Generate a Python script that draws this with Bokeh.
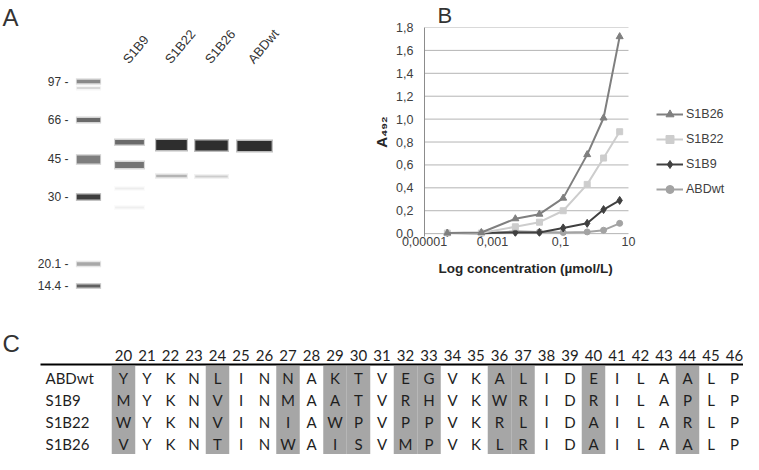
from bokeh.plotting import figure
from bokeh.layouts import row, column
from bokeh.models import (Range1d, FixedTicker, CustomJSTickFormatter, Legend,
                          LegendItem, ColumnDataSource, Title)
from bokeh.embed import file_html
from bokeh.resources import INLINE
from bokeh.core.properties import value

# ---------------- Panel A : SDS-PAGE gel ----------------
lanes = ["Marker", "S1B9", "S1B22", "S1B26", "ABDwt"]
marker_kda = ["97", "66", "45", "30", "20.1", "14.4"]
marker_migration = [81, 119, 158.5, 196.5, 263.5, 285.5]

band_lane = [0, 0, 0, 0, 0, 0, 0, 1, 1, 1, 1, 2, 2, 3, 3, 4]
band_migration = [81, 87.5, 119.5, 159, 196.5, 263.5, 285.5,
                  141.7, 164.5, 188, 207,
                  144.5, 175.5,
                  145, 176,
                  145.5]
band_intensity = [0.5, 0.15, 0.65, 0.55, 0.9, 0.35, 0.7,
                  0.65, 0.6, 0.07, 0.06,
                  1.0, 0.3,
                  1.0, 0.2,
                  1.0]
band_thickness = [3.5, 2, 4, 8, 5, 3.5, 3,
                  4.5, 6, 2, 2,
                  10, 2.5,
                  10, 2,
                  10]

# ---------------- Panel B : ELISA ----------------
conc = [4.7e-5, 4.7e-4, 4.7e-3, 0.024, 0.12, 0.61, 1.85, 5.5]
s1b26 = [0.005, 0.01, 0.13, 0.17, 0.31, 0.69, 1.01, 1.72]
s1b22 = [0.005, 0.005, 0.06, 0.10, 0.20, 0.43, 0.66, 0.89]
s1b9 = [0.005, 0.005, 0.01, 0.01, 0.05, 0.09, 0.21, 0.29]
abdwt = [0.005, 0.0, 0.02, 0.015, 0.01, 0.015, 0.03, 0.09]
y_ticks = [0, 0.2, 0.4, 0.6, 0.8, 1.0, 1.2, 1.4, 1.6, 1.8]
x_ticks = [1e-5, 1e-3, 1e-1, 10]

# ---------------- Panel C : sequence alignment ----------------
positions = list(range(20, 47))
seq_names = ["ABDwt", "S1B9", "S1B22", "S1B26"]
sequences = ["YYKNLINNAKTVEGVKALIDEILAALP",
             "MYKNVINMAATVRHVKWRIDRILAPLP",
             "WYKNVINIAWPVPPVKRLIDAILARLP",
             "VYKNTINWAISVMPVKLRIDAILAALP"]
randomized = [20, 24, 27, 29, 30, 32, 33, 36, 37, 40, 44]

FONT = value("Liberation Sans")
TFONT = value("Lato")

# ===== Panel A figure =====
lane_x = [88, 129, 171, 211, 254]
lane_w = [26, 32, 34, 36, 38]

pa = figure(width=370, height=322, x_range=Range1d(0, 370), y_range=Range1d(322, 0),
            output_backend="svg", toolbar_location=None, min_border=0,
            outline_line_color=None, frame_align=False)
pa.axis.visible = False
pa.grid.visible = False

bx = [lane_x[i] for i in band_lane]
bw = [lane_w[i] for i in band_lane]
src = ColumnDataSource(dict(
    x=bx, y=band_migration,
    w_halo=[v * 0.97 for v in bw], w_core=[v * 0.9 for v in bw],
    h_halo=[t + 3 for t in band_thickness], h_core=band_thickness,
    a_halo=[v * 0.3 for v in band_intensity],
    a_core=[v * 0.85 for v in band_intensity],
))
pa.rect("x", "y", width="w_halo", height="h_halo", source=src,
        fill_color="#202020", fill_alpha="a_halo", line_color=None)
pa.rect("x", "y", width="w_core", height="h_core", source=src,
        fill_color="#151515", fill_alpha="a_core", line_color=None)

pa.text(x=[68] * len(marker_kda), y=marker_migration,
        text=[k + " -" for k in marker_kda], text_align="right",
        text_baseline="middle", text_font=FONT, text_font_size="12px",
        text_color="#333333")
pa.text(x=[lane_x[i] - 4 for i in range(1, 5)], y=[61] * 4, text=lanes[1:],
        angle=50, angle_units="deg", text_align="left", text_baseline="alphabetic",
        text_font=FONT, text_font_size="13px", text_color="#333333")
pa.text(x=[2], y=[17], text=["A"], text_baseline="middle", text_align="left",
        text_font=FONT, text_font_size="24px", text_color="#333333")

# ===== Panel B figure =====
# the plot frame is widened to the right so that the legend can sit beside the curves
pb = figure(width=373, height=322, x_axis_type="log",
            x_range=Range1d(1e-5, 19700), y_range=Range1d(-0.025, 1.8),
            output_backend="svg", toolbar_location=None,
            min_border_left=54, min_border_right=3, min_border_top=24,
            min_border_bottom=86, outline_line_color=None, frame_align=False)
pb.title.text = "B"
pb.title.text_font = "Liberation Sans"
pb.title.text_font_size = "22px"
pb.title.text_font_style = "normal"
pb.title.text_color = "#333333"
pb.title.standoff = 0
pb.title.offset = 13
pb.title.align = "left"

pb.grid.visible = False
pb.segment(x0=[x_ticks[0]] * len(y_ticks), y0=y_ticks,
           x1=[x_ticks[-1]] * len(y_ticks), y1=y_ticks,
           line_color="#b4b4b4", line_width=1)

yax = pb.yaxis[0]
yax.ticker = FixedTicker(ticks=y_ticks, minor_ticks=[])
yax.formatter = CustomJSTickFormatter(code="return tick.toFixed(1).replace('.', ',');")
yax.major_tick_in = 0
yax.major_tick_out = 0
yax.minor_tick_in = 0
yax.minor_tick_out = 0
yax.major_label_standoff = 11
yax.axis_line_color = "#8c8c8c"
yax.major_label_text_font = "Liberation Sans"
yax.major_label_text_font_size = "12.5px"
yax.major_label_text_color = "#404040"
yax.axis_label = "A₄₉₂"
yax.axis_label_text_font = "Liberation Sans"
yax.axis_label_text_font_size = "15px"
yax.axis_label_text_font_style = "bold"
yax.axis_label_text_color = "#262626"
yax.axis_label_standoff = 3

xax = pb.xaxis[0]
xax.ticker = FixedTicker(ticks=x_ticks, minor_ticks=[])
xax.formatter = CustomJSTickFormatter(code="return tick.toString().replace('.', ',');")
xax.major_tick_in = 0
xax.major_tick_out = 0
xax.minor_tick_in = 0
xax.minor_tick_out = 0
xax.major_label_standoff = 0
xax.axis_line_color = None
xax.major_label_text_font = "Liberation Sans"
xax.major_label_text_font_size = "12.5px"
xax.major_label_text_color = "#404040"

pb.add_layout(Title(text="Log concentration (µmol/L)", align="left", offset=14,
                    standoff=20, text_font="Liberation Sans", text_font_size="13.5px",
                    text_font_style="bold", text_color="#262626"), "below")

series = [
    ("ABDwt", abdwt, "#a3a3a3", "circle", 6),
    ("S1B9", s1b9, "#404040", "diamond", 8),
    ("S1B22", s1b22, "#cdcdcd", "square", 6),
    ("S1B26", s1b26, "#7f7f7f", "triangle", 7),
]
items = {}
for name, vals, col, mk, sz in series:
    ln = pb.line(conc, vals, line_color=col, line_width=2)
    sc = pb.scatter(conc, vals, marker=mk, size=sz, fill_color=col, line_color=col)
    items[name] = LegendItem(label=name, renderers=[ln, sc])

legend = Legend(items=[items[n] for n in ["S1B26", "S1B22", "S1B9", "ABDwt"]],
                location=(232, 37), glyph_width=27, glyph_height=20,
                label_height=20, spacing=5, padding=0, margin=0,
                label_standoff=3, border_line_color=None,
                background_fill_alpha=0, label_text_font="Liberation Sans",
                label_text_font_size="12.5px", label_text_color="#404040")
pb.add_layout(legend)

# ===== Panel C figure =====
pc = figure(width=743, height=132, x_range=Range1d(14.766, 46.383),
            y_range=Range1d(3.4773, -2.5227), output_backend="svg",
            toolbar_location=None, min_border=0, outline_line_color=None,
            frame_align=False)
pc.axis.visible = False
pc.grid.visible = False

pc.vbar(x=randomized, width=1, bottom=-0.545, top=3.6, fill_color="#a6a6a6",
        line_color=None)
pc.segment(x0=[16.468], y0=[-0.614], x1=[46.6], y1=[-0.614], line_color="#000000",
           line_width=2)
pc.text(x=positions, y=[-1.045] * len(positions), text=[str(p) for p in positions],
        text_align="center", text_baseline="middle", text_font=TFONT,
        text_font_size="15px", text_color="#1e1e1e")
for r, (nm, seq) in enumerate(zip(seq_names, sequences)):
    pc.text(x=[16.681], y=[r], text=[nm], text_align="left", text_baseline="middle",
            text_font=TFONT, text_font_size="15px", text_color="#1e1e1e")
    pc.text(x=positions, y=[r] * len(positions), text=list(seq),
            text_align="center", text_baseline="middle", text_font=TFONT,
            text_font_size="15px", text_color="#1e1e1e")
pc.text(x=[14.851], y=[-1.568], text=["C"], text_align="left", text_baseline="middle",
        text_font=FONT, text_font_size="24px", text_color="#333333")

layout = column(row(pa, pb), pc)
open("out.html", "w").write(file_html(layout, INLINE))
